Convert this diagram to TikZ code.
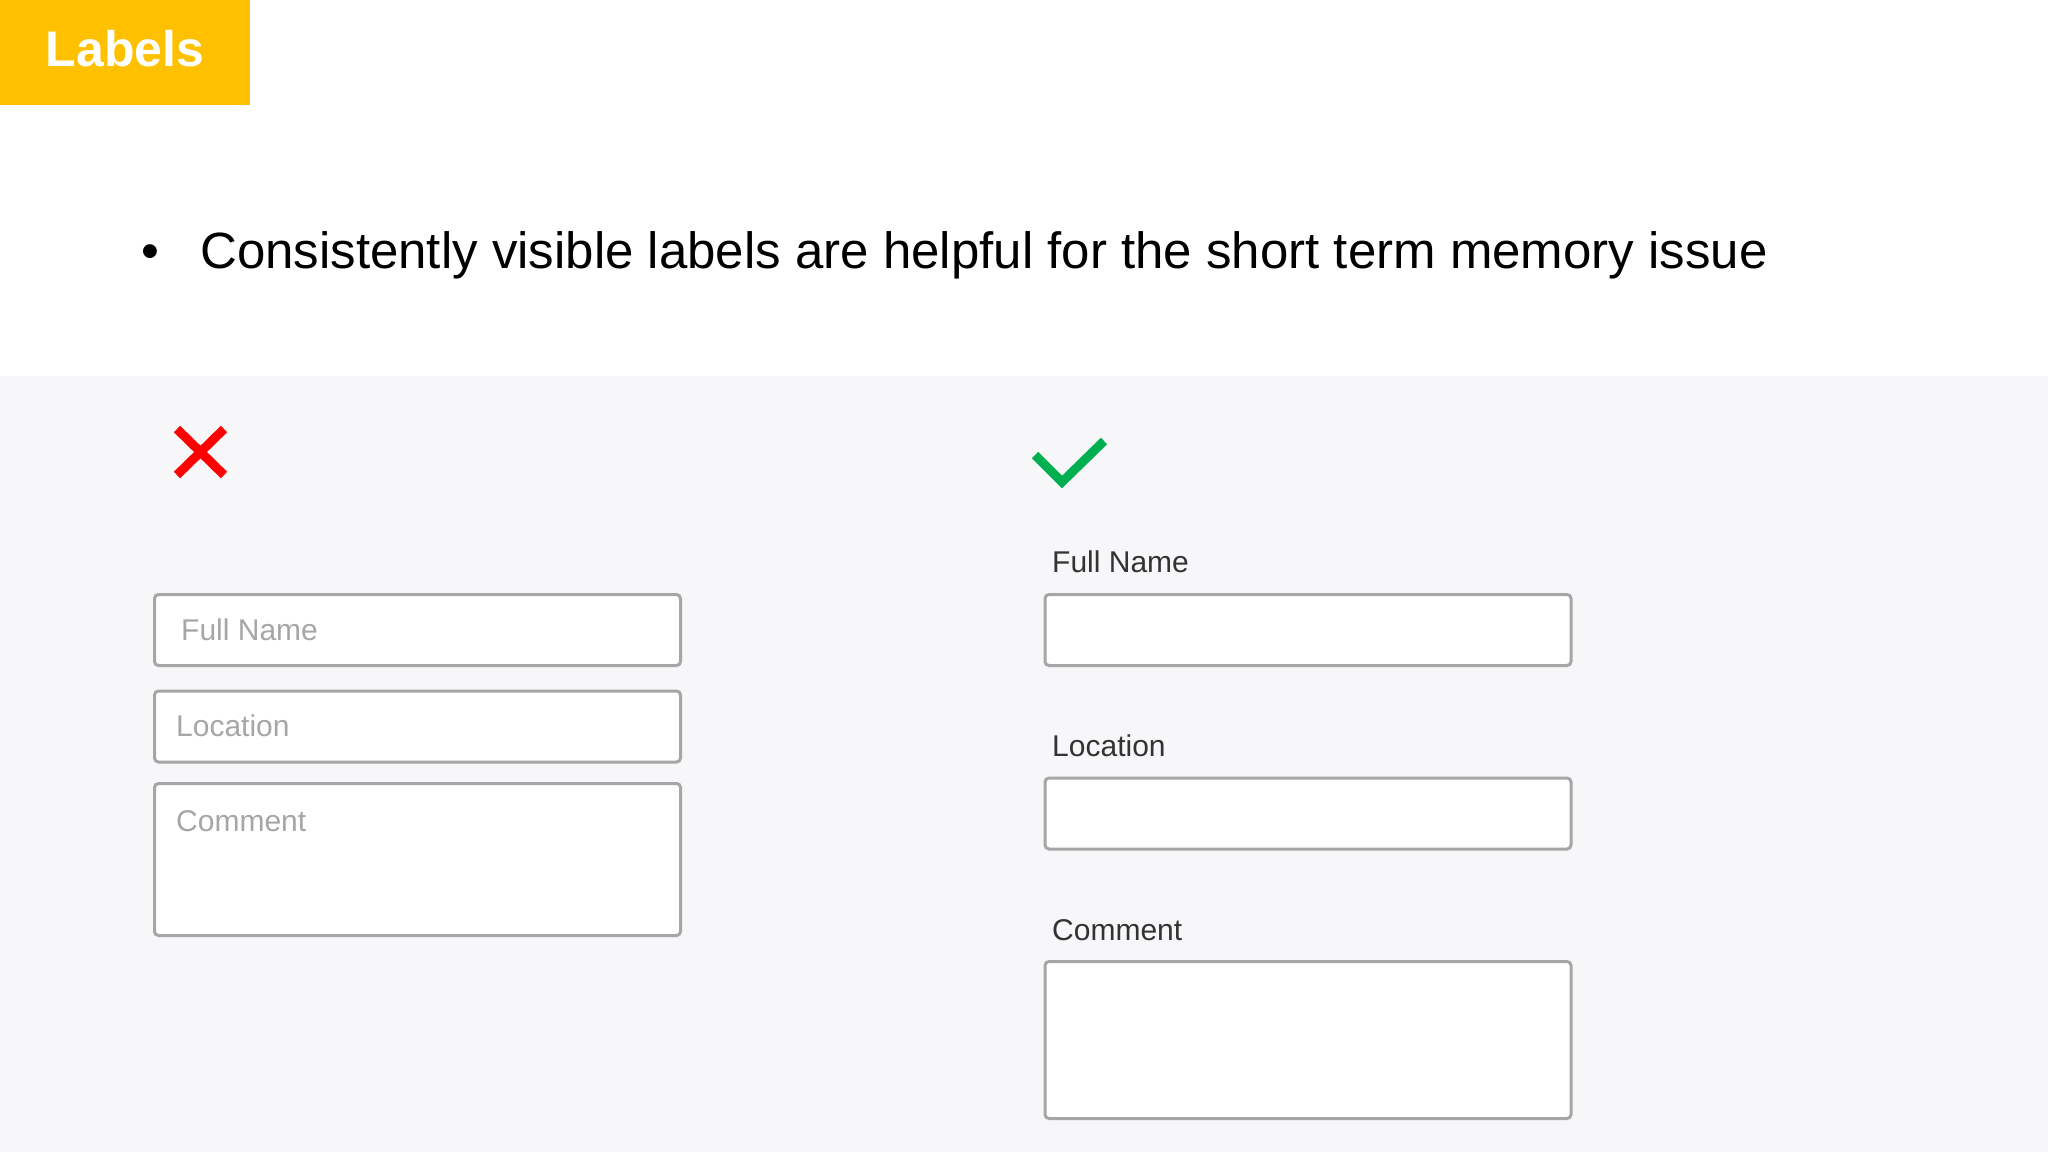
\documentclass[tikz,border=0pt]{standalone}
\usepackage{fontspec}
\setmainfont{Liberation Sans}
\usetikzlibrary{positioning, calc}

\definecolor{bannerYellow}{HTML}{FFC000}
\definecolor{panelGray}{HTML}{F7F6F8}
\definecolor{fieldLine}{HTML}{A6A6A6}
\definecolor{labelText}{HTML}{333333}
\definecolor{goodGreen}{HTML}{00B050}

\begin{document}
\begin{tikzpicture}[x=1pt, y=-1pt,
        field/.style={draw=fieldLine, line width=3pt, fill=white, rounded corners=4pt,
            anchor=north west, minimum width=526pt, inner sep=0pt},
        hint/.style={anchor=base west, inner sep=0pt, text=fieldLine,
            font=\fontsize{30}{36}\selectfont},
        caption/.style={anchor=base west, inner sep=0pt, text=labelText,
            font=\fontsize{30}{36}\selectfont}]
    \useasboundingbox (0,0) rectangle (2048,1152);
    \fill[white] (0,0) rectangle (2048,1152);
    \fill[panelGray] (0,376) rectangle (2048,1152);

    % title banner
    \fill[bannerYellow] (0,0) rectangle (250,105);
    \node[anchor=base, inner sep=0pt, text=white, font=\fontsize{50}{60}\selectfont\bfseries]
        (banner) at (125,66) {Labels};

    % bullet line
    \node[anchor=base, inner sep=0pt, font=\fontsize{51}{60}\selectfont] (dot) at (150,268) {\textbullet};
    \node[anchor=base west, inner sep=0pt, font=\fontsize{51}{60}\selectfont] (point) at (200,268)
        {Consistently visible labels are helpful for the short term memory issue};

    % bad example: placeholders only
    \draw[red, line width=9pt] (177,429) -- (224,475) (224,429) -- (177,475);
    \node[field, minimum height=71pt] (nameA) at (153,593) {};
    \node[field, minimum height=71pt] (placeA) at (153,689.5) {};
    \node[field, minimum height=152pt] (noteA) at (153,782) {};
    \node[hint] at (181,640) {Full Name};
    \node[hint] at (176,736) {Location};
    \node[hint] at (176,831) {Comment};

    % good example: labels above fields
    \draw[goodGreen, line width=9pt] (1035,455) -- (1062,482) -- (1104,441);
    \node[field, minimum height=71pt] (nameB) at (1043.5,593) {};
    \node[field, minimum height=71pt] (placeB) at (1043.5,776.5) {};
    \node[field, minimum height=157pt] (noteB) at (1043.5,960) {};
    \node[caption] (nameL) at (1052,572) {Full Name};
    \node[caption] (placeL) at (1052,756) {Location};
    \node[caption] (noteL) at (1052,940) {Comment};
\end{tikzpicture}
\end{document}
